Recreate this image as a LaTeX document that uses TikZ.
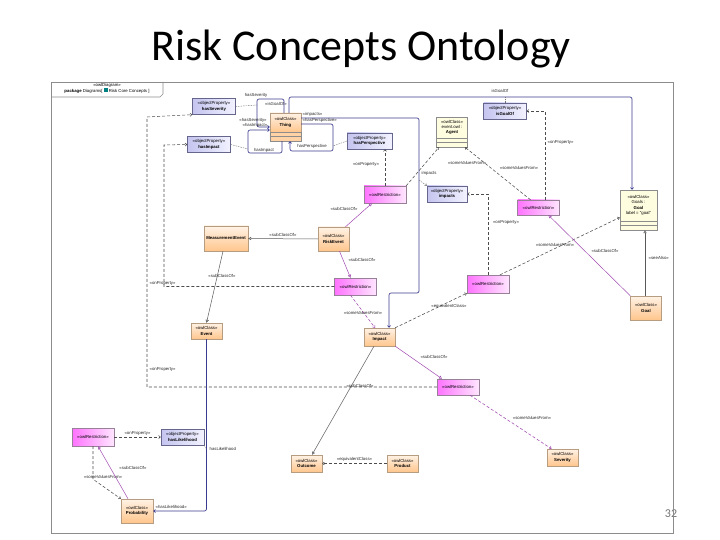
\documentclass[tikz,border=0pt]{standalone}
\usepackage{fontspec}
\setmainfont{Carlito}
\newfontfamily\umlfont{Liberation Sans}
\usetikzlibrary{positioning,arrows.meta}
\definecolor{navyline}{HTML}{3B3B8F}
\definecolor{violetline}{HTML}{A048B0}
\definecolor{propfill}{HTML}{C4C4F0}
% two empty compartments under a class node, plus a coordinate at the bottom
\newcommand{\compart}[3]{%
  \draw[draw=black!45, fill=#3] (#1.south west) rectangle ++(#2,4.5) ++(-#2,0) rectangle ++(#2,4.5);
  \coordinate (#1-b) at ([yshift=-9pt]#1.south);}

\begin{document}
\begin{tikzpicture}[
  x=1pt, y=-1pt,
  >=Stealth,
  uml/.style={font=\umlfont\fontsize{4.3}{5.3}\selectfont},
  box/.style={uml, draw, align=center, inner sep=0.8pt},
  cls/.style={box, draw=brown!70!black!60, top color=orange!10, bottom color=orange!45, minimum width=31pt, minimum height=17pt},
  ycls/.style={box, draw=black!45, fill=yellow!12, minimum width=31pt},
  rst/.style={box, draw=violet!40!black!50, left color=magenta!55, right color=magenta!10, minimum width=42pt, minimum height=16pt},
  prop/.style={box, draw=blue!25!black!60, left color=propfill, right color=blue!5, minimum width=43pt, minimum height=16pt},
  lbl/.style={uml, inner sep=0.5pt, text=black!85},
  sub/.style={draw=black!65, line width=0.5pt, -{Triangle[open,length=3pt,width=3.2pt]}},
  psub/.style={sub, draw=violetline},
  dep/.style={draw=black!70, line width=0.55pt, dash pattern=on 3pt off 2pt, -{Straight Barb[length=1.8pt,width=3pt]}},
  pdep/.style={dep, draw=violetline},
  assoc/.style={draw=navyline, line width=0.65pt, rounded corners=2pt, -{Straight Barb[length=1.8pt,width=3pt]}},
  link/.style={draw=black!55, dash pattern=on 1.5pt off 1pt},
]
\useasboundingbox (0,0) rectangle (720,540);

% Slide title and page number
\node[font=\fontsize{44}{52}\selectfont, anchor=base] (title) at (361,61) {Risk Concepts Ontology};
\node[font=\fontsize{12}{14}\selectfont, text=black!55] (pnum) at (671,514) {32};

% Diagram frame
\draw[black!45, line width=0.6pt] (51,82) rectangle (673,533);
\draw[black!45, line width=0.6pt] (51,97) -- (160,97) -- (163,94) -- (163,82);
\node[uml, align=center, anchor=north, inner sep=0.5pt] (pkg) at (107,83)
  {«owlDiagram»\\\textbf{package} Diagrams[ {\color{teal}\rule{4pt}{4pt}} Risk Core Concepts ]};

% Top row
\node[prop] (hsev) at (214,106.5) {«objectProperty»\\\textbf{hasSeverity}};
\node[prop] (himp) at (209,144.5) {«objectProperty»\\\textbf{hasImpact}};
\node[cls, minimum height=19pt] (thing) at (285.5,122.5) {«owlClass»\\\textbf{Thing}};
\compart{thing}{31}{orange!35}
\node[prop, minimum width=45pt] (hper) at (369.5,141) {«objectProperty»\\\textbf{hasPerspective}};
\node[ycls, minimum height=21pt] (agent) at (452,127.5) {«owlClass»\\event.owl :\\\textbf{Agent}};
\compart{agent}{31}{yellow!12}
\node[prop] (igoal) at (505,111) {«objectProperty»\\\textbf{isGoalOf}};
\node[rst, minimum height=17pt] (rsa) at (385,194.5) {«owlRestriction»};
\node[prop, minimum width=40pt] (imps) at (447,194) {«objectProperty»\\\textbf{impacts}};
\node[rst, minimum height=15pt] (rsb) at (538.5,207.5) {«owlRestriction»};
\node[ycls, minimum width=37pt, minimum height=31pt] (goals) at (638.5,205.5) {«owlClass»\\Goals :\\\textbf{Goal}\\label = "goal"};
\compart{goals}{37}{yellow!12}

% Middle
\node[cls, minimum width=44pt, minimum height=25pt] (mevent) at (226,238.5) {\textbf{MeasurementEvent}};
\node[cls, minimum height=24pt] (revent) at (333.5,239) {«owlClass»\\\textbf{RiskEvent}};
\node[rst, minimum height=17pt] (rsc) at (355.5,286.5) {«owlRestriction»};
\node[rst, minimum height=18pt] (rsd) at (488,284) {«owlRestriction»};
\node[cls, minimum height=24pt] (goal) at (646,308) {«owlClass»\\\textbf{Goal}};
\node[cls, minimum height=16pt] (event) at (206.5,331) {«owlClass»\\\textbf{Event}};
\node[cls, minimum height=18pt] (impact) at (379.5,337) {«owlClass»\\\textbf{Impact}};
\node[rst] (rse) at (458,387) {«owlRestriction»};

% Bottom
\node[rst, minimum height=18pt] (rsf) at (93,437) {«owlRestriction»};
\node[prop] (hlik) at (182.5,437) {«objectProperty»\\\textbf{hasLikelihood}};
\node[cls, minimum width=32pt, minimum height=24pt] (prob) at (137,511) {«owlClass»\\\textbf{Probability}};
\node[cls] (outc) at (306.5,463.5) {«owlClass»\\\textbf{Outcome}};
\node[cls] (prod) at (402.5,463.5) {«owlClass»\\\textbf{Product}};
\node[cls] (sev) at (562.5,457.5) {«owlClass»\\\textbf{Severity}};

% Associations of Thing
\coordinate (igtop) at (632,97);
\draw[assoc] ([xshift=3.5pt]thing.north) |- (igtop) -- ([xshift=-6.5pt]goals.north);
\draw[link] (igoal.north) -- (igoal.north |- igtop);
\node[lbl] (l-ig) at (500,91) {isGoalOf};
\node[lbl] (l-ig2) at (276,104) {«isGoalOf»};

\draw[assoc] ([yshift=4.5pt]thing.east) -| (419,293) -| ([xshift=9.5pt]impact.north);
\coordinate (impk) at (419,180);
\draw[link, -{Straight Barb[length=1.8pt,width=3pt]}] (impk) -- (imps.north west);
\node[lbl, anchor=south west] (l-imp) at (302,117) {«impacts»};
\node[lbl, anchor=west] (l-imp2) at (421,173) {impacts};

\draw[assoc] ([yshift=-1.5pt]thing.east) -| (333,151) -| ([xshift=4.5pt,yshift=-9pt]thing.south);
\coordinate (hperk) at (333,146);
\draw[link] (hper.west) -- (hperk);
\node[lbl, anchor=south west] (l-hp) at (302,123.5) {«hasPerspective»};
\node[lbl] (l-hp2) at (312,146) {hasPerspective};

\draw[assoc] ([xshift=-1.5pt]thing.north) |- (257,99) |- ([yshift=-4.5pt]thing.west);
\coordinate (hsevk) at (257,105);
\draw[link] (hsev.east) -- (hsevk);
\node[lbl] (l-hs) at (256,95) {hasSeverity};
\node[lbl] (l-hs2) at (253,120.5) {«hasSeverity»};

\draw[assoc] ([xshift=-3.5pt,yshift=-9pt]thing.south) |- (248,153) |- ([yshift=-7.5pt]thing.west);
\coordinate (himpk) at (248,149);
\draw[link] (himp.east) -- (himpk);
\node[lbl] (l-hi) at (264,150) {hasImpact};
\node[lbl] (l-hi2) at (255,125) {«hasImpact»};

% onProperty lines on the left
\draw[dep] (rse.west) -| (147,117) -- (hsev.south west);
\node[lbl, anchor=west] (l-op1) at (149,369) {«onProperty»};
\draw[dep] (rsc.west) -| (164,145) -- (himp.west);
\node[lbl, anchor=west] (l-op2) at (149,283.5) {«onProperty»};

% Restrictions near the top
\draw[dep] (rsa.north) -- ([xshift=15.5pt]hper.south);
\node[lbl] (l-op3) at (366,164) {«onProperty»};
\draw[dep] (rsa.north east) -- ([xshift=-13pt]agent-b);
\node[lbl] (l-sv1) at (467,163) {«someValuesFrom»};
\draw[dep] ([xshift=-8pt]rsb.north) -- ([xshift=13pt]agent-b);
\node[lbl] (l-sv2) at (519,168) {«someValuesFrom»};
\draw[dep] ([xshift=6.5pt]rsb.north) |- (igoal.east);
\node[lbl, anchor=west] (l-op4) at (547,142) {«onProperty»};
\draw[dep] (rsd.north) |- (imps.east);
\node[lbl] (l-op5) at (506,222) {«onProperty»};

% Class hierarchy
\draw[sub] (revent.west) -- (mevent.east) node[lbl, midway, above=1pt] {«subClassOf»};
\draw[psub] ([xshift=12pt]revent.north) -- ([xshift=-13pt]rsa.south);
\node[lbl] (l-sc1) at (344,209) {«subClassOf»};
\draw[psub] ([xshift=6pt]revent.south) -- ([xshift=-5pt]rsc.north);
\node[lbl] (l-sc2) at (362,260) {«subClassOf»};
\draw[sub] ([xshift=-3pt]mevent.south) -- (event.north);
\node[lbl] (l-sc3) at (222,276) {«subClassOf»};
\draw[pdep] ([xshift=-5pt]rsc.south) -- ([xshift=-4.5pt]impact.north);
\node[lbl] (l-sv3) at (363,313) {«someValuesFrom»};
\draw[sub] ([xshift=-5.5pt]impact.south) -- ([xshift=5.5pt]outc.north);
\node[lbl] (l-sc4) at (360,386) {«subClassOf»};
\draw[psub] (impact.south east) -- ([xshift=-16pt]rse.north);
\node[lbl] (l-sc5) at (434,357) {«subClassOf»};
\draw[pdep] ([xshift=12pt]rse.south) -- ([xshift=-11pt]sev.north);
\node[lbl] (l-sv4) at (532,418) {«someValuesFrom»};
\draw[dep] (prod.west) -- (outc.east) node[lbl, midway, above=1pt] {«equivalentClass»};
\draw[dep] (impact.north east) -- (rsd.south west);
\node[lbl] (l-eq) at (449,306) {«equivalentClass»};
\draw[dep] ([xshift=12pt]rsd.north) -- ([yshift=-12pt]goals.west);
\node[lbl] (l-sv5) at (555,245) {«someValuesFrom»};
\draw[psub] (goal.north west) -- ([xshift=10pt]rsb.south);
\node[lbl] (l-sc6) at (605,251) {«subClassOf»};
\draw[sub] ([xshift=-1pt]goal.north) -- ([xshift=6.5pt]goals-b);
\node[lbl, anchor=west] (l-sa) at (648,258) {«seeAlso»};

% Likelihood part
\draw[dep] (rsf.east) -- (hlik.west) node[lbl, midway, above=1pt] {«onProperty»};
\draw[dep] (rsf.south) -- ++(0,33) -- (prob.north west);
\node[lbl] (l-sv6) at (103,477) {«someValuesFrom»};
\draw[psub] ([xshift=-9pt]prob.north) -- ([xshift=5pt]rsf.south);
\node[lbl] (l-sc7) at (133,468) {«subClassOf»};
\draw[assoc] (event.south) |- (prob.east);
\coordinate (hlikk) at (206.5,449);
\draw[link] (hlik.south east) -- (hlikk);
\node[lbl, anchor=west] (l-hl) at (209,449) {hasLikelihood};
\node[lbl, anchor=west] (l-hl2) at (155,507) {«hasLikelihood»};

\end{tikzpicture}
\end{document}
